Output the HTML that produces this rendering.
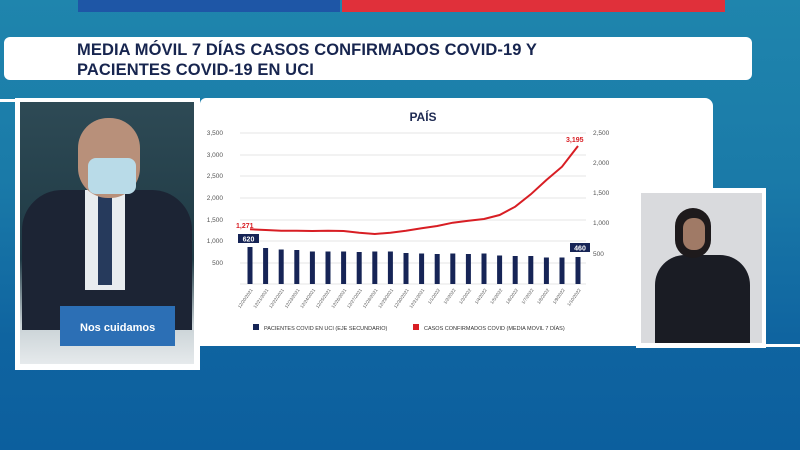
<!DOCTYPE html>
<html><head><meta charset="utf-8"><style>
body{margin:0;width:800px;height:450px;overflow:hidden;background:linear-gradient(180deg,#1f85ad 0%,#1a7aa8 40%,#0f64a0 75%,#0c5f9e 100%);font-family:"Liberation Sans",sans-serif;position:relative}
.a{position:absolute}
</style></head><body>
<div class="a" style="left:78px;top:0;width:262px;height:12px;background:#1e56a6"></div>
<div class="a" style="left:342px;top:0;width:383px;height:12px;background:#e0303a"></div>
<div class="a" style="left:4px;top:37px;width:748px;height:43px;background:#fff;border-radius:6px"></div>
<div class="a" style="left:77px;top:40px;font-weight:bold;font-size:16.5px;line-height:20px;color:#17254f;letter-spacing:0.1px">MEDIA MÓVIL 7 DÍAS CASOS CONFIRMADOS COVID-19 Y<br>PACIENTES COVID-19 EN UCI</div>
<div class="a" style="left:0;top:99px;width:200px;height:3px;background:#fff"></div>
<div class="a" style="left:200px;top:98px;width:513px;height:248px;background:#fff;border-radius:6px 8px 0 0"></div>
<div class="a" style="left:636px;top:344px;width:164px;height:3px;background:#fff"></div>
<!-- left video -->
<div class="a" style="left:15px;top:98px;width:185px;height:272px;background:#fff"></div>
<div class="a" style="left:20px;top:102px;width:174px;height:262px;background:linear-gradient(180deg,#2e4a55,#1f3a45 60%,#c9d2d6 85%,#e6eaec)"></div>
<div class="a" style="left:22px;top:190px;width:170px;height:140px;background:#1c2434;border-radius:40px 40px 0 0"></div>
<div class="a" style="left:85px;top:190px;width:40px;height:100px;background:#e8ecef"></div>
<div class="a" style="left:98px;top:195px;width:14px;height:90px;background:#263a5c"></div>
<div class="a" style="left:78px;top:118px;width:62px;height:80px;background:#b8907a;border-radius:30px"></div>
<div class="a" style="left:88px;top:158px;width:48px;height:36px;background:#b9dbe8;border-radius:8px"></div>
<div class="a" style="left:60px;top:306px;width:115px;height:40px;background:#2c6fb5"></div>
<div class="a" style="left:80px;top:322px;font-size:11px;font-weight:bold;color:#fff">Nos cuidamos</div>
<!-- right video -->
<div class="a" style="left:636px;top:188px;width:130px;height:160px;background:#fff"></div>
<div class="a" style="left:641px;top:193px;width:121px;height:150px;background:#d9dadd"></div>
<div class="a" style="left:655px;top:255px;width:95px;height:88px;background:#1a1c24;border-radius:30px 30px 0 0"></div>
<div class="a" style="left:675px;top:208px;width:36px;height:50px;background:#1e1a1c;border-radius:18px"></div>
<div class="a" style="left:683px;top:218px;width:22px;height:32px;background:#a07a66;border-radius:10px"></div>
<svg class="a" style="left:0;top:0" width="800" height="450" font-family="Liberation Sans, sans-serif">
<text x="423" y="121" font-size="12" font-weight="bold" fill="#1e2a52" text-anchor="middle">PAÍS</text>
<g stroke="#e6e6e6" stroke-width="1">
<line x1="240" x2="586" y1="133" y2="133"/><line x1="240" x2="586" y1="155" y2="155"/><line x1="240" x2="586" y1="176" y2="176"/><line x1="240" x2="586" y1="198" y2="198"/><line x1="240" x2="586" y1="220" y2="220"/><line x1="240" x2="586" y1="241" y2="241"/><line x1="240" x2="586" y1="263" y2="263"/><line x1="240" x2="586" y1="284" y2="284"/>
</g>
<g font-size="6.5" fill="#555" text-anchor="end">
<text x="223" y="135">3,500</text><text x="223" y="157">3,000</text><text x="223" y="178">2,500</text><text x="223" y="200">2,000</text><text x="223" y="222">1,500</text><text x="223" y="243">1,000</text><text x="223" y="265">500</text>
</g>
<g font-size="6.5" fill="#555">
<text x="593" y="135">2,500</text><text x="593" y="165">2,000</text><text x="593" y="195">1,500</text><text x="593" y="225">1,000</text><text x="593" y="256">500</text>
</g>
<g fill="#162456" id="bars"></g>
<polyline fill="none" stroke="#d81e24" stroke-width="2" points="250,229.3 265.6,230 281.2,230.7 296.8,230.7 312.4,231 328,230.7 343.6,231 359.2,232.7 374.8,234 390.4,232.7 406,230.7 421.6,228.3 437.2,226 452.8,222.7 468.4,220.7 484,219 499.6,215 515.2,206.7 530.8,194.3 546.4,180 562,166.7 578,146"/>
<text x="236" y="228" font-size="7" font-weight="bold" fill="#d81e24">1,271</text>
<text x="566" y="142" font-size="7" font-weight="bold" fill="#d81e24">3,195</text>
<rect x="238" y="234" width="21" height="9" fill="#162456"/><text x="248.5" y="241.5" font-size="7" font-weight="bold" fill="#fff" text-anchor="middle">620</text>
<rect x="570" y="243" width="20" height="9" fill="#162456"/><text x="580" y="250.5" font-size="7" font-weight="bold" fill="#fff" text-anchor="middle">460</text>
<g font-size="4.5" fill="#555" id="dates"></g>
<rect x="253" y="324" width="6" height="6" fill="#162456"/>
<text x="264" y="330" font-size="5.5" fill="#333">PACIENTES COVID EN UCI (EJE SECUNDARIO)</text>
<rect x="413" y="324" width="6" height="6" fill="#d81e24"/>
<text x="424" y="330" font-size="5.5" fill="#333">CASOS CONFIRMADOS COVID (MEDIA MOVIL 7 DÍAS)</text>
<g fill="#162456">
<rect x="247.5" y="247" width="5" height="37"/><rect x="263.1" y="248" width="5" height="36"/><rect x="278.7" y="249.5" width="5" height="34.5"/><rect x="294.3" y="250" width="5" height="34"/><rect x="309.9" y="251.5" width="5" height="32.5"/><rect x="325.5" y="251.5" width="5" height="32.5"/><rect x="341.1" y="251.5" width="5" height="32.5"/><rect x="356.7" y="252" width="5" height="32"/><rect x="372.3" y="251.5" width="5" height="32.5"/><rect x="387.9" y="251.5" width="5" height="32.5"/><rect x="403.5" y="253" width="5" height="31"/><rect x="419.1" y="253.5" width="5" height="30.5"/><rect x="434.7" y="254" width="5" height="30"/><rect x="450.3" y="253.5" width="5" height="30.5"/><rect x="465.9" y="254" width="5" height="30"/><rect x="481.5" y="253.5" width="5" height="30.5"/><rect x="497.1" y="255.5" width="5" height="28.5"/><rect x="512.7" y="256" width="5" height="28"/><rect x="528.3" y="256" width="5" height="28"/><rect x="543.9" y="257.5" width="5" height="26.5"/><rect x="559.5" y="257.5" width="5" height="26.5"/><rect x="575.5" y="257" width="5" height="27"/>
</g>
<g font-size="4.5" fill="#555" text-anchor="end">
<text transform="translate(253,290) rotate(-55)">12/20/2021</text><text transform="translate(268.6,290) rotate(-55)">12/21/2021</text><text transform="translate(284.2,290) rotate(-55)">12/22/2021</text><text transform="translate(299.8,290) rotate(-55)">12/23/2021</text><text transform="translate(315.4,290) rotate(-55)">12/24/2021</text><text transform="translate(331,290) rotate(-55)">12/25/2021</text><text transform="translate(346.6,290) rotate(-55)">12/26/2021</text><text transform="translate(362.2,290) rotate(-55)">12/27/2021</text><text transform="translate(377.8,290) rotate(-55)">12/28/2021</text><text transform="translate(393.4,290) rotate(-55)">12/29/2021</text><text transform="translate(409,290) rotate(-55)">12/30/2021</text><text transform="translate(424.6,290) rotate(-55)">12/31/2021</text><text transform="translate(440.2,290) rotate(-55)">1/1/2022</text><text transform="translate(455.8,290) rotate(-55)">1/2/2022</text><text transform="translate(471.4,290) rotate(-55)">1/3/2022</text><text transform="translate(487,290) rotate(-55)">1/4/2022</text><text transform="translate(502.6,290) rotate(-55)">1/5/2022</text><text transform="translate(518.2,290) rotate(-55)">1/6/2022</text><text transform="translate(533.8,290) rotate(-55)">1/7/2022</text><text transform="translate(549.4,290) rotate(-55)">1/8/2022</text><text transform="translate(565,290) rotate(-55)">1/9/2022</text><text transform="translate(581,290) rotate(-55)">1/10/2022</text>
</g>
</svg>
</body></html>
